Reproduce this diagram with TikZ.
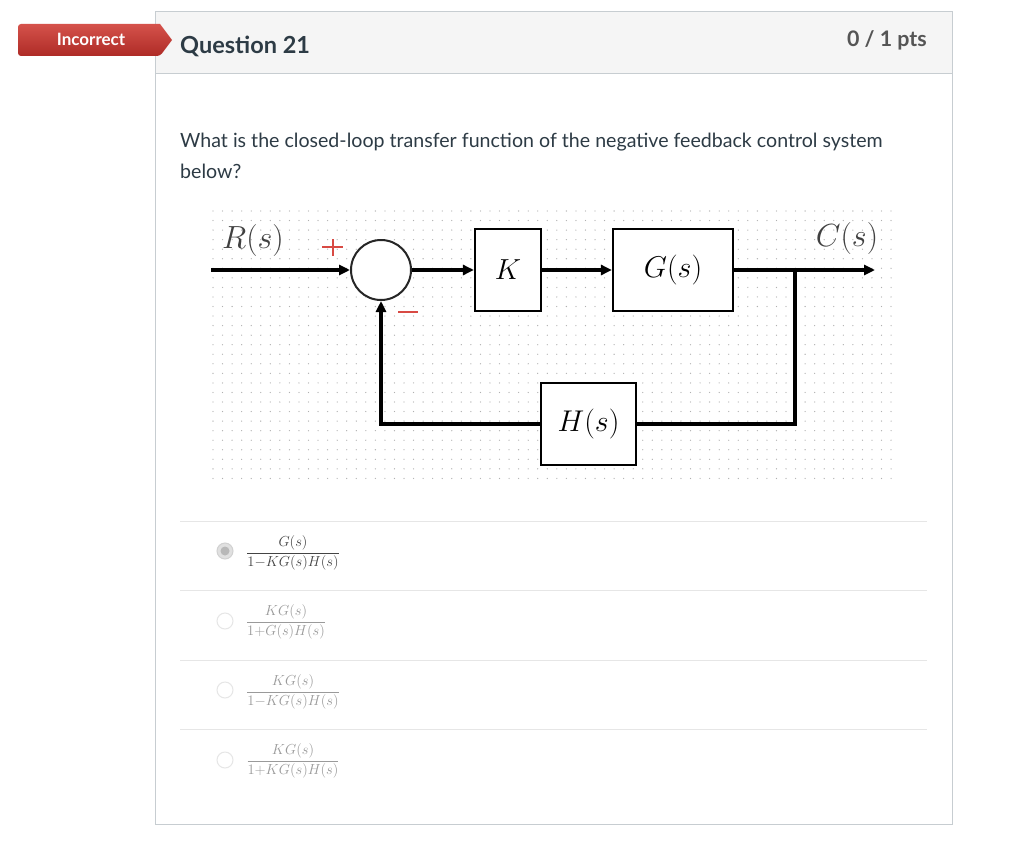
\documentclass[tikz,border=0pt]{standalone}
\usepackage{fix-cm}
\usepackage{fontspec}
\newfontfamily\lato{Lato}
\usetikzlibrary{arrows.meta}
\definecolor{cardline}{HTML}{C7CDD1}
\definecolor{headfill}{HTML}{F5F5F5}
\definecolor{qtext}{HTML}{2D3B45}
\definecolor{ptsgray}{HTML}{555555}
\definecolor{tabtop}{HTML}{D5524B}
\definecolor{tabbot}{HTML}{AE2B26}
\definecolor{dotc}{HTML}{B0B0B0}
\definecolor{signred}{HTML}{D84A44}
\definecolor{sepline}{HTML}{E6E6E6}
\definecolor{ansdark}{HTML}{444444}
\definecolor{anslight}{HTML}{9A9A9A}
\begin{document}
\begin{tikzpicture}[x=1pt,y=-1pt,
  blk/.style={draw=black, line width=2.2pt, fill=white, inner sep=0pt, font=\fontsize{30}{34}\selectfont},
  sig/.style={line width=3.4pt, -{Triangle[length=11pt,width=10pt]}},
  wire/.style={line width=3.4pt},
  lbl/.style={font=\fontsize{32}{36}\selectfont, inner sep=0pt},
  ans/.style={font=\fontsize{14.5}{17}\selectfont, inner sep=0pt},
  radio/.style={circle, minimum size=16pt, inner sep=0pt, draw=sepline, line width=1pt, fill=white}
]
\useasboundingbox (0,0) rectangle (1024,840);
\fill[white] (0,0) rectangle (1024,840);
% card
\fill[headfill] (155,12) rectangle (952,74);
\draw[cardline, line width=1pt] (155,74) -- (952,74);
\draw[cardline, line width=1pt] (155,12) rectangle (952,824);
% tab
\shade[top color=tabtop, bottom color=tabbot, rounded corners=3pt]
  (160,24) -- (18,24) -- (18,56) -- (160,56) [sharp corners] -- (172,40) -- cycle;
\node[anchor=base, text=white, font=\lato\bfseries\fontsize{17}{20}\selectfont] (tab) at (91,46) {Incorrect};
% header texts
\node[anchor=base west, text=qtext, font=\lato\bfseries\fontsize{23.5}{27}\selectfont, inner sep=0pt] (qnum) at (180,54) {Question 21};
\node[anchor=base east, text=ptsgray, font=\lato\bfseries\fontsize{21.4}{25}\selectfont, inner sep=0pt] (pts) at (927,47) {0 / 1 pts};
% question
\node[anchor=base west, text=qtext, font=\lato\fontsize{19.6}{23}\selectfont, inner sep=0pt] (q1) at (180,147) {What is the closed-loop transfer function of the negative feedback control system};
\node[anchor=base west, text=qtext, font=\lato\fontsize{19.6}{23}\selectfont, inner sep=0pt] (q2) at (180,178) {below?};
% dotted background
\foreach \i in {0,...,71}{
  \foreach \j in {0,...,28}{
    \fill[dotc] (213+\i*9.55, 211+\j*9.55) circle (0.65pt);
  }
}
% diagram
\node[circle, draw=black!85, line width=2pt, minimum size=60pt, inner sep=0pt, fill=white] (sum) at (381,270) {};
\node[blk, minimum width=66pt, minimum height=82pt, font=\fontsize{29}{33}\selectfont] (K) at (508,270) {$K$};
\node[blk, minimum width=120pt, minimum height=82pt] (G) at (673,270) {$G(s)$};
\node[blk, minimum width=95pt, minimum height=82pt] (H) at (588.5,424) {$H(s)$};
\coordinate (in) at (211,270);
\coordinate (out) at (875,270);
\coordinate (br) at (795,270);
\draw[sig] (in) -- (sum.west);
\draw[sig] (sum.east) -- (K.west);
\draw[sig] (K.east) -- (G.west);
\draw[sig] (G.east) -- (out);
\draw[wire] (br) |- (H.east);
\draw[sig] (H.west) -| (sum.south);
% labels
\node[lbl, text=black!75] (R) at (253,240) {$R(s)$};
\node[lbl, text=black!75] (C) at (847,238) {$C(s)$};
\draw[signred, line width=2pt] (322,247) -- (343,247) (332.5,239) -- (332.5,256);
\draw[signred, line width=2.2pt] (398,312) -- (418,312);
% answers
\foreach \y in {521,590,660,729}{\draw[sepline, line width=1pt] (180,\y) -- (927,\y);}
\node[radio, fill=black!12, draw=black!18] (r1) at (225,551) {};
\fill[black!28] (r1) circle (4.5pt);
\node[radio] (r2) at (225,621) {};
\node[radio] (r3) at (225,690) {};
\node[radio] (r4) at (225,760) {};
\node[ans, text=ansdark] (a1) at (293,553) {$\displaystyle\frac{G(s)}{1{-}KG(s)H(s)}$};
\node[ans, text=anslight] (a2) at (286,622) {$\displaystyle\frac{KG(s)}{1{+}G(s)H(s)}$};
\node[ans, text=anslight] (a3) at (293,692) {$\displaystyle\frac{KG(s)}{1{-}KG(s)H(s)}$};
\node[ans, text=anslight] (a4) at (293,761) {$\displaystyle\frac{KG(s)}{1{+}KG(s)H(s)}$};
\end{tikzpicture}
\end{document}
